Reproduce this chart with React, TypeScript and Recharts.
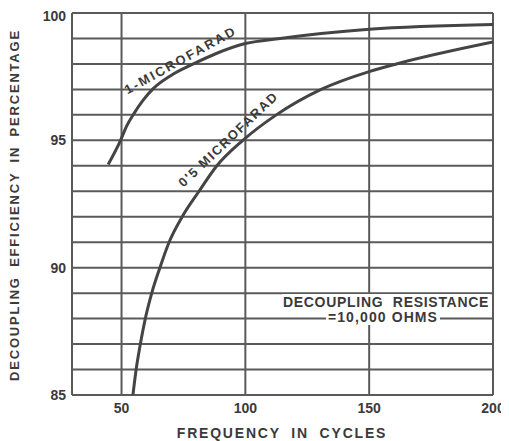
import { LineChart, Line, XAxis, YAxis, ReferenceLine } from "recharts";

// 1 microfarad curve
const freq1 = [44.6, 49.6, 52, 55, 58.5, 63, 70, 79, 88, 100, 114, 150, 200];
const eff1 = [94.05, 95, 95.55, 96.05, 96.55, 97.05, 97.55, 98, 98.4, 98.8, 99.0, 99.36, 99.55];

// 0.5 microfarad curve
const freq2 = [54.6, 55.9, 57.6, 59.6, 62.2, 65.5, 69.2, 74.5, 81.3, 88.5, 99, 112.5, 130.6, 150, 161, 200];
const eff2 = [85, 86, 87, 88, 89, 90, 91, 92, 93, 94, 95, 96, 97, 97.7, 98, 98.86];

const xTicks = [50, 100, 150, 200];
const yTicks = [85, 90, 95, 100];
const gridX = [30, 50, 100, 150, 200];
const gridY = [85, 86, 87, 88, 89, 90, 91, 92, 93, 94, 95, 96, 97, 98, 99, 100];

const one = freq1.map((f, i) => ({ f, e: eff1[i] }));
const half = freq2.map((f, i) => ({ f, e: eff2[i] }));

const ink = "#3a3a3a";
const gridInk = "#5a5a5a";
const font = "'Liberation Sans', Arial, sans-serif";
const tick = { fill: ink, fontSize: 14, fontWeight: 700, fontFamily: font };

export default function App() {
  return (
    <div style={{ position: "relative", width: 501, height: 433 }}>
      <LineChart width={501} height={433} data={one} margin={{ top: 5, right: 16, left: 24, bottom: 16 }}>
        <XAxis
          type="number"
          dataKey="f"
          domain={[30, 200]}
          ticks={xTicks}
          allowDataOverflow
          axisLine={false}
          tickLine={false}
          tickSize={6}
          tickMargin={2}
          height={30}
          tick={tick}
        />
        <YAxis
          type="number"
          domain={[85, 100]}
          ticks={yTicks}
          allowDataOverflow
          axisLine={false}
          tickLine={false}
          tickSize={4}
          tickMargin={2}
          width={40}
          tick={tick}
        />
        {gridY.map((v) => (
          <ReferenceLine key={"y" + v} y={v} stroke={gridInk} strokeWidth={2} />
        ))}
        {gridX.map((v) => (
          <ReferenceLine key={"x" + v} x={v} stroke={gridInk} strokeWidth={2} />
        ))}
        <Line data={one} dataKey="e" type="monotone" stroke="#444" strokeWidth={3} dot={false} isAnimationActive={false} />
        <Line data={half} dataKey="e" type="monotone" stroke="#444" strokeWidth={3} dot={false} isAnimationActive={false} />
      </LineChart>
      <svg
        width={501}
        height={433}
        style={{ position: "absolute", left: 0, top: 0, pointerEvents: "none" }}
        fontFamily={font}
        fontWeight={700}
        fill={ink}
      >
        <text
          transform="translate(173,53) rotate(-29)"
          textAnchor="middle"
          dominantBaseline="middle"
          fontSize={13}
          letterSpacing={2.2}
        >
          1-MICROFARAD
        </text>
        <text
          transform="translate(221,132) rotate(-43.5)"
          textAnchor="middle"
          dominantBaseline="middle"
          fontSize={13}
          letterSpacing={1.6}
        >
          0'5 MICROFARAD
        </text>
        <rect x={274} y={286} width={208} height={17} fill="#fff" />
        <rect x={318} y={303} width={114} height={14} fill="#fff" />
        <text x={378} y={295} textAnchor="middle" dominantBaseline="middle" fontSize={14} letterSpacing={0.7} wordSpacing={5}>
          DECOUPLING RESISTANCE
        </text>
        <text x={375} y={310} textAnchor="middle" dominantBaseline="middle" fontSize={14} letterSpacing={1.1}>
          =10,000 OHMS
        </text>
        <text
          transform="translate(8,197) rotate(-90)"
          textAnchor="middle"
          dominantBaseline="middle"
          fontSize={13}
          letterSpacing={1.8}
          wordSpacing={4}
        >
          DECOUPLING EFFICIENCY IN PERCENTAGE
        </text>
        <text x={274} y={426} textAnchor="middle" dominantBaseline="middle" fontSize={14} letterSpacing={1.8} wordSpacing={5}>
          FREQUENCY IN CYCLES
        </text>
      </svg>
    </div>
  );
}
